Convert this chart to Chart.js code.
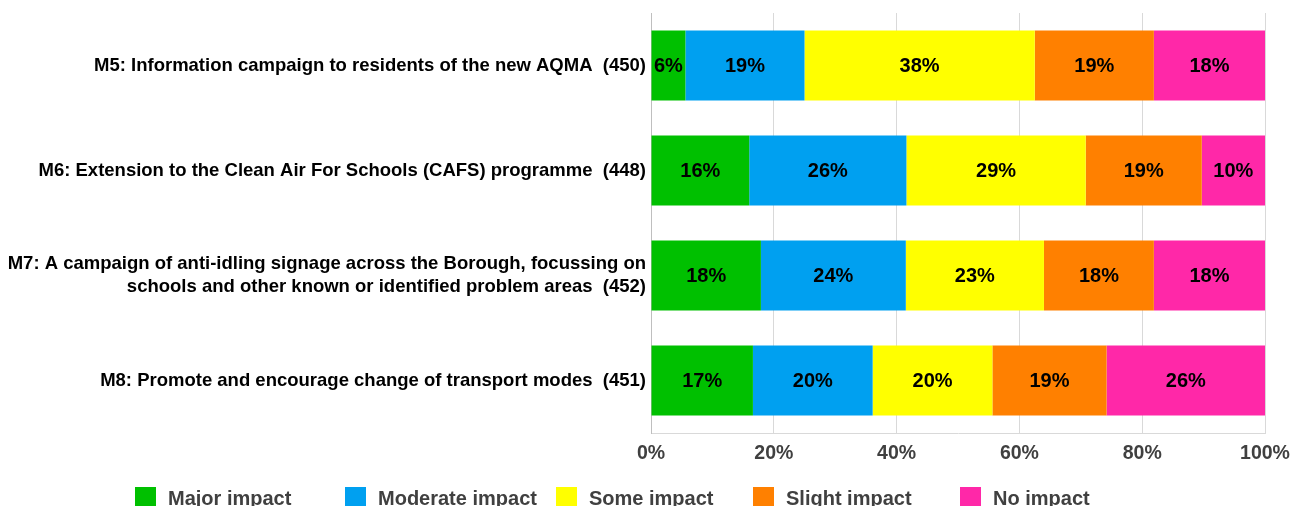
<!DOCTYPE html>
<html>
<head>
<meta charset="utf-8">
<script src="https://cdn.jsdelivr.net/npm/chart.js@4"></script>
<style>
  html, body { margin: 0; padding: 0; background: #fff; }
  #wrap { width: 1293px; height: 506px; position: relative; }
</style>
</head>
<body>
<div id="wrap"><canvas id="chart" width="1293" height="506"></canvas></div>
<script>
const categories = [
  'M5: Information campaign to residents of the new AQMA  (450)',
  'M6: Extension to the Clean Air For Schools (CAFS) programme  (448)',
  ['M7: A campaign of anti-idling signage across the Borough, focussing on', 'schools and other known or identified problem areas  (452)'],
  'M8: Promote and encourage change of transport modes  (451)'
];
const seriesNames = ['Major impact', 'Moderate impact', 'Some impact', 'Slight impact', 'No impact'];
const seriesColors = ['#00c000', '#00a0f0', '#ffff00', '#ff8000', '#ff28a8'];

// percentages per series, one value per category (M5..M8)
const majorImpact    = [5.6, 16.0, 17.9, 16.6];
const moderateImpact = [19.4, 25.6, 23.6, 19.5];
const someImpact     = [37.5, 29.2, 22.5, 19.5];
const slightImpact   = [19.4, 18.9, 17.9, 18.6];
const noImpact       = [18.1, 10.3, 18.1, 25.8];
const xTicks = [0, 20, 40, 60, 80, 100];

const seriesValues = [majorImpact, moderateImpact, someImpact, slightImpact, noImpact];

// Draw rounded percentage in the middle of each bar segment
const barLabels = {
  id: 'barLabels',
  afterDatasetsDraw(chart) {
    const ctx = chart.ctx;
    ctx.save();
    ctx.font = 'bold 20px "Liberation Sans", Arial, sans-serif';
    ctx.fillStyle = '#000';
    ctx.textAlign = 'center';
    ctx.textBaseline = 'middle';
    chart.data.datasets.forEach((ds, i) => {
      chart.getDatasetMeta(i).data.forEach((bar, j) => {
        const cx = (bar.x + bar.base) / 2;
        ctx.fillText(Math.round(ds.data[j]) + '%', cx, bar.y + 1);
      });
    });
    ctx.restore();
  }
};

// Legend drawn along the bottom edge
const legendX = [135, 345, 556, 753, 960];
const bottomLegend = {
  id: 'bottomLegend',
  afterDraw(chart) {
    const ctx = chart.ctx;
    ctx.save();
    ctx.font = 'bold 20px "Liberation Sans", Arial, sans-serif';
    ctx.textBaseline = 'middle';
    chart.data.datasets.forEach((ds, i) => {
      const x = legendX[i];
      ctx.fillStyle = ds.backgroundColor;
      ctx.fillRect(x, 487, 21, 21);
      ctx.fillStyle = '#404040';
      ctx.fillText(ds.label, x + 33, 499);
    });
    ctx.restore();
  }
};

// let layout.padding alone decide the plot area edges
const noLabelPadding = scale => {
  scale.paddingLeft = 0;
  scale.paddingRight = 0;
  scale.paddingTop = 0;
  scale.paddingBottom = 0;
};

new Chart(document.getElementById('chart'), {
  type: 'bar',
  data: {
    labels: categories,
    datasets: seriesNames.map((name, i) => ({
      label: name,
      data: seriesValues[i],
      backgroundColor: seriesColors[i],
      borderWidth: 0,
      barPercentage: 1,
      categoryPercentage: 0.667
    }))
  },
  options: {
    indexAxis: 'y',
    responsive: false,
    animation: false,
    layout: { padding: { top: 13, right: 28, bottom: 36, left: 0 } },
    plugins: {
      legend: { display: false },
      tooltip: { enabled: false }
    },
    scales: {
      x: {
        stacked: true,
        min: 0,
        max: 100,
        afterBuildTicks: scale => { scale.ticks = xTicks.map(v => ({ value: v })); },
        afterFit: scale => { scale.height = 37; noLabelPadding(scale); },
        grid: { color: '#d9d9d9', drawTicks: false },
        border: { color: '#d9d9d9' },
        ticks: {
          padding: 9,
          color: '#404040',
          font: { family: '"Liberation Sans", Arial, sans-serif', size: 19.5, weight: 'bold' },
          callback: v => v + '%'
        }
      },
      y: {
        stacked: true,
        grid: { display: false, drawTicks: false },
        border: { color: '#bfbfbf' },
        afterFit: scale => { scale.width = 651; noLabelPadding(scale); },
        ticks: {
          padding: 5,
          color: '#000',
          font: { family: '"Liberation Sans", Arial, sans-serif', size: 18.5, weight: 'bold', lineHeight: 1.2 }
        }
      }
    }
  },
  plugins: [barLabels, bottomLegend]
});
</script>
</body>
</html>
